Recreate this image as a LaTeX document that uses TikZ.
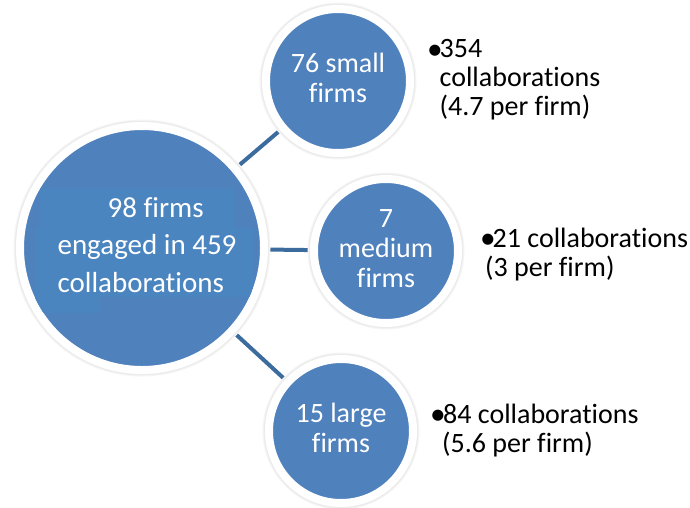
\documentclass[tikz,border=0pt]{standalone}
\usepackage{fontspec}
\setmainfont{Carlito}[Ligatures={NoCommon,NoContextual}]
\usetikzlibrary{backgrounds}
\definecolor{bubblefill}{HTML}{4F81BD}
\definecolor{patchfill}{HTML}{4B85C0}
\definecolor{linkcol}{HTML}{3C6B9E}
\newcommand{\bul}{\raisebox{-1.2pt}{\scalebox{1.12}{•}}}
\begin{document}
\begin{tikzpicture}[x=1pt,y=-1pt,
  bubble/.style={circle, fill=bubblefill, draw=white, line width=8pt, inner sep=0pt,
    preaction={draw=black!4, line width=13pt, fill=none},
    preaction={draw=black!8, line width=10.5pt, fill=none}},
  bubbletext/.style={text=white, align=center, inner sep=0pt, font=\fontsize{28}{30}\selectfont},
  bigtext/.style={text=white, align=left, inner sep=0pt, font=\fontsize{29}{37.5}\selectfont},
  note/.style={align=left, inner sep=0pt, anchor=north west, text=black, font=\fontsize{28}{29}\selectfont},
  link/.style={draw=linkcol, line width=4pt}]
\useasboundingbox (0,0) rectangle (690,507);
% bubbles
\node[bubble, minimum size=244pt] (big) at (142,248) {};
\node[bubble, minimum size=144pt] (small) at (338,81) {};
\node[bubble, minimum size=144pt] (medium) at (386,251) {};
\node[bubble, minimum size=144pt] (large) at (341,431) {};
% faint text-box patches inside the big bubble
\begin{scope}
  \clip (big.center) circle (118pt);
  \fill[patchfill] (40,188) rectangle (235,228);
  \fill[patchfill] (35,228) rectangle (253,297);
  \fill[patchfill] (35,297) rectangle (100,313);
\end{scope}
% connectors
\begin{scope}[on background layer]
  \draw[link] (big.center) -- (small.center);
  \draw[link] (big.center) -- (medium.center);
  \draw[link] (big.center) -- (large.center);
\end{scope}
% texts in bubbles
\node[bigtext] (bigt) at (147,245) {\hspace*{50pt}98 firms\\engaged in 459\\collaborations};
\node[bubbletext] (smallt) at (338,78) {76 small\\firms};
\node[bubbletext] (mediumt) at (386,249) {7\\medium\\firms};
\node[bubbletext] (larget) at (341,428) {15 large\\firms};
% notes
\node[note] (smallnote) at (427,39.5) {\makebox[12.5pt][l]{\bul}354\\\hspace*{12.5pt}collaborations\\\hspace*{12.5pt}(4.7 per firm)};
\node[note] (mediumnote) at (480,227.5) {\makebox[12.5pt][l]{\bul}21 collaborations\\\hspace*{5pt}(3 per firm)};
\node[note] (largenote) at (430,403.5) {\makebox[13pt][l]{\bul}84 collaborations\\\hspace*{12pt}(5.6 per firm)};
\end{tikzpicture}
\end{document}
